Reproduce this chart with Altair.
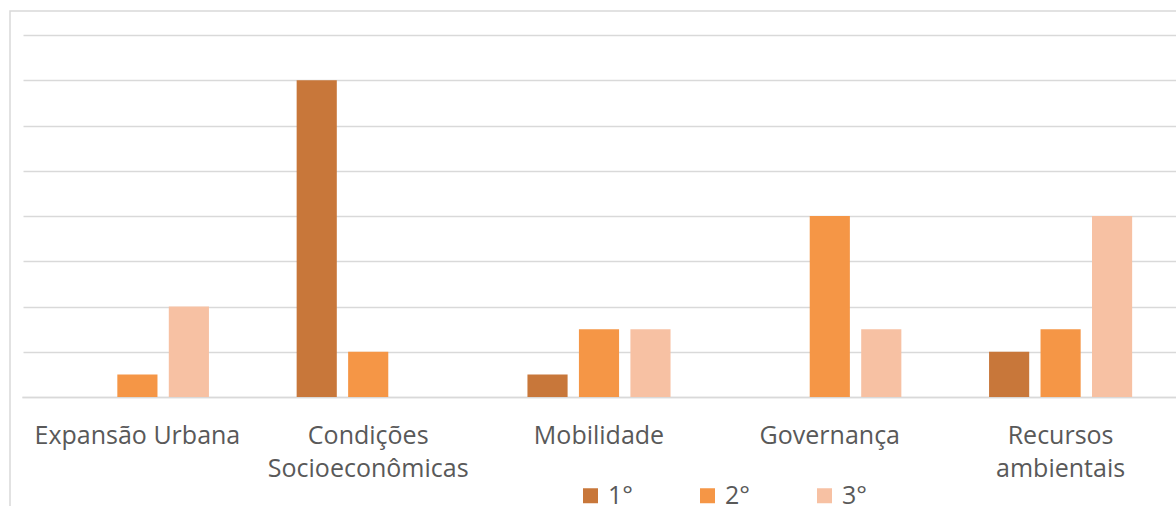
import altair as alt
import pandas as pd

categories = ["Expansão Urbana", "Condições Socioeconômicas", "Mobilidade", "Governança", "Recursos ambientais"]
series_names = ["1°", "2°", "3°"]
s1 = [0, 14, 1, 0, 2]
s2 = [1, 2, 3, 8, 3]
s3 = [4, 0, 3, 3, 8]
colors = ["#C8773A", "#F59646", "#F7C1A3"]
grid_values = [0, 2, 4, 6, 8, 10, 12, 14, 16]

rows = []
for name, vals in zip(series_names, [s1, s2, s3]):
    for c, v in zip(categories, vals):
        rows.append({"categoria": c, "serie": name, "valor": v})
df = pd.DataFrame(rows)

W, H = 1154, 362
FONT = "Open Sans"

bars = alt.Chart(df).mark_bar().encode(
    x=alt.X("categoria:N", sort=categories, title=None,
            scale=alt.Scale(paddingInner=0.38, paddingOuter=0.19),
            axis=alt.Axis(labelAngle=0, labelFontSize=25, labelColor="#595959", labelFont=FONT,
                          labelPadding=26, labelLineHeight=33, ticks=False, labelLimit=400, grid=False,
                          domainColor="#d9d9d9", domainWidth=1.5,
                          labelExpr="length(datum.label) > 16 ? split(datum.label, ' ') : datum.label")),
    xOffset=alt.XOffset("serie:N", sort=series_names, scale=alt.Scale(paddingInner=0.22, paddingOuter=0)),
    y=alt.Y("valor:Q", title=None, scale=alt.Scale(domain=[0, 16], nice=False),
            axis=alt.Axis(values=grid_values, labels=False, ticks=False, domain=False,
                          gridColor="#d9d9d9", gridWidth=1.5)),
    color=alt.Color("serie:N", sort=series_names,
                    scale=alt.Scale(domain=series_names, range=colors),
                    legend=alt.Legend(title=None, orient="none", legendX=556, legendY=448,
                                      direction="horizontal", symbolType="square", symbolSize=225,
                                      symbolStrokeWidth=0, labelFontSize=25, labelColor="#595959",
                                      labelFont=FONT, columnPadding=62, labelOffset=5)),
)

border = alt.Chart(alt.Data(values=[{}])).mark_rect(fill=None, stroke="#d9d9d9", strokeWidth=1.5).encode(
    x=alt.value(-12), x2=alt.value(W + 100), y=alt.value(-24), y2=alt.value(H + 200)
)

# white cover over the stray left edge line of the plot area
cover = alt.Chart(alt.Data(values=[{}])).mark_rule(color="white", strokeWidth=3).encode(
    x=alt.value(0), y=alt.value(-2), y2=alt.value(H - 1)
)

chart = alt.layer(border, bars, cover).properties(
    width=W, height=H,
    background="white",
    autosize=alt.AutoSizeParams(type="none"),
    padding={"left": 22, "top": 35, "right": 0, "bottom": 109},
).configure_view(strokeWidth=0, stroke=None)

chart.save("out.html", embed_options={"renderer": "svg", "actions": False})
